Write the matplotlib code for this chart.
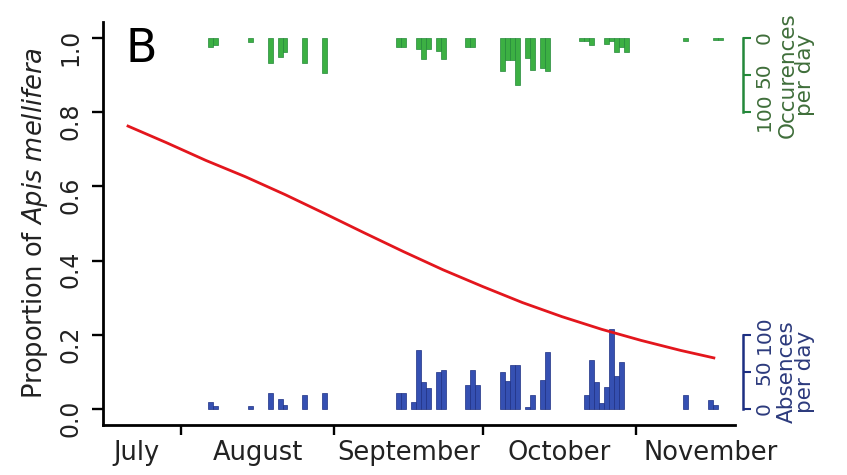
import matplotlib
matplotlib.use("Agg")
import matplotlib.pyplot as plt
import matplotlib.transforms as mtransforms

plt.rcParams["mathtext.fontset"] = "custom"
plt.rcParams["mathtext.it"] = "DejaVu Sans:italic"
plt.rcParams["mathtext.rm"] = "DejaVu Sans"

# fitted proportion of Apis mellifera (day of year, value)
curve_day = [202, 210, 218, 226, 234, 242, 250, 258, 266, 274, 282, 290, 298, 306, 314, 321]
curve_val = [0.764, 0.718, 0.670, 0.626, 0.578, 0.527, 0.475, 0.424, 0.375, 0.330,
             0.287, 0.249, 0.215, 0.185, 0.158, 0.137]

# occurrences per day (green, hanging from the top)
occ_day = [219, 220, 227, 231, 233, 234, 238, 242,
           257, 258, 261, 262, 263, 265, 266, 271, 272,
           278, 279, 280, 281, 283, 284, 286, 287,
           294, 295, 296, 299, 300, 301, 302, 303, 315, 321, 322]
occ_n = [12, 9, 6, 34, 26, 19, 34, 47,
         12, 12, 15, 28, 15, 17, 29, 12, 12,
         45, 30, 30, 63, 27, 43, 40, 45,
         4, 4, 10, 8, 4, 19, 12, 19, 4, 3, 3]

# absences per day (blue, standing on the bottom)
abs_day = [219, 220, 227, 231, 233, 234, 238, 242,
           257, 258, 260, 261, 262, 263, 265, 266, 271, 272, 273,
           278, 279, 280, 281, 283, 284, 286, 287,
           295, 296, 297, 298, 299, 300, 301, 302, 315, 320, 321]
abs_n = [9, 4, 4, 21, 13, 6, 19, 21,
         21, 21, 10, 80, 37, 28, 50, 53, 32, 52, 32,
         50, 38, 60, 60, 3, 19, 39, 77,
         19, 66, 36, 8, 30, 108, 45, 63, 19, 12, 6]

month_edges = [213, 244, 274, 305]
month_names = ["July", "August", "September", "October", "November"]
month_mid = [204, 228.5, 259, 289.5, 320]

SCALE = 0.002          # 100 records per day = 0.2 on the proportion axis
YLO, YHI = -0.043, 1.043

fig = plt.figure(figsize=(8.47, 4.75), dpi=100)
ax = fig.add_axes([103 / 847, 50 / 475, 632 / 847, 403 / 475])
ag = ax.twinx()
ab = ax.twinx()
ax.set_zorder(3)
ax.patch.set_visible(False)

GREEN, GREEN_E, GREEN_T = "#3cb043", "#24883a", "#3f6e3a"
BLUE, BLUE_E, BLUE_T = "#3550b2", "#1d2f82", "#2c3a7c"
INK = "#222222"

ag.bar(occ_day, occ_n, width=1.0, color=GREEN, edgecolor=GREEN_E, linewidth=0.5)
ab.bar(abs_day, abs_n, width=1.0, color=BLUE, edgecolor=BLUE_E, linewidth=0.5)

ax.plot(curve_day, curve_val, color="#e3161d", lw=2.0, solid_capstyle="butt")

ax.set_xlim(197.2, 325)
ax.set_ylim(YLO, YHI)
ag.set_ylim((1 - YLO) / SCALE, (1 - YHI) / SCALE)   # inverted: 0 at proportion 1.0
ab.set_ylim(YLO / SCALE, YHI / SCALE)

# main axes: L-shaped frame
for s in ("top", "right"):
    ax.spines[s].set_visible(False)
for s in ("left", "bottom"):
    ax.spines[s].set_linewidth(2.0)
ax.set_yticks([0, 0.2, 0.4, 0.6, 0.8, 1.0])
ax.set_yticklabels([f"{v:.1f}" for v in [0, 0.2, 0.4, 0.6, 0.8, 1.0]])
ax.tick_params(axis="y", direction="out", length=8, width=1.7, labelsize=17,
               labelrotation=90, pad=7, labelcolor=INK)
ax.set_xticks(month_edges)
ax.set_xticklabels([])
ax.set_xticks(month_mid, minor=True)
ax.set_xticklabels(month_names, minor=True)
ax.tick_params(axis="x", which="major", direction="out", length=7, width=1.7)
ax.tick_params(axis="x", which="minor", length=0, labelsize=18.5, pad=11,
               labelcolor=INK)
ax.set_ylabel("Proportion of $\\mathit{Apis\\ mellifera}$", fontsize=18.5, labelpad=6,
              color=INK)

ax.text(0.036, 0.988, "B", transform=ax.transAxes, fontsize=33, va="top", ha="left")

# side brackets for the daily counts
for a, col, tcol, lab in ((ag, GREEN_E, GREEN_T, "Occurences\nper day"),
                          (ab, BLUE_E, BLUE_T, "Absences\nper day")):
    for s in ("top", "left", "bottom"):
        a.spines[s].set_visible(False)
    a.spines["right"].set_position(("outward", 6))
    a.spines["right"].set_bounds(0, 100)
    a.spines["right"].set_color(col)
    a.spines["right"].set_linewidth(1.8)
    a.set_yticks([0, 50, 100])
    a.tick_params(axis="y", direction="out", length=6, width=1.5, color=col,
                  labelsize=14.5, labelrotation=90, labelcolor=tcol, pad=2)
    for t in a.get_yticklabels():
        t.set_va("center")
    tr = mtransforms.blended_transform_factory(a.transAxes, a.transData)
    a.text(1.097, 50, lab, transform=tr, rotation=90, ha="center", va="center",
           fontsize=15.5, color=tcol, linespacing=0.88, multialignment="center")

fig.savefig("out.png", dpi=100)
